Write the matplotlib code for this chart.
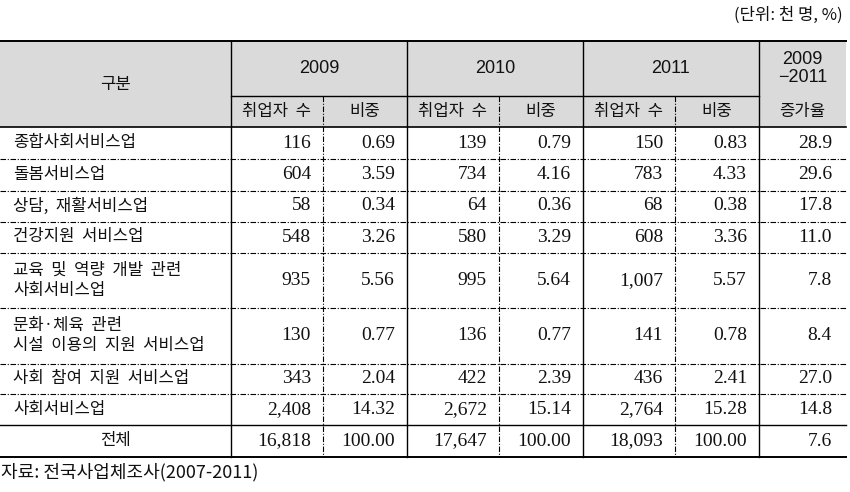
import matplotlib
matplotlib.use("Agg")
import matplotlib.pyplot as plt

plt.rcParams['font.family'] = ['Noto Sans CJK KR', 'DejaVu Sans']

# data
years = ['2009', '2010', '2011']
categories = ['종합사회서비스업', '돌봄서비스업', '상담,  재활서비스업', '건강지원  서비스업',
              '교육  및  역량  개발  관련\n사회서비스업',
              '문화·체육  관련\n시설  이용의  지원  서비스업',
              '사회  참여  지원  서비스업', '사회서비스업', '전체']
workers_2009 = ['116', '604', '58', '548', '935', '130', '343', '2,408', '16,818']
share_2009 = ['0.69', '3.59', '0.34', '3.26', '5.56', '0.77', '2.04', '14.32', '100.00']
workers_2010 = ['139', '734', '64', '580', '995', '136', '422', '2,672', '17,647']
share_2010 = ['0.79', '4.16', '0.36', '3.29', '5.64', '0.77', '2.39', '15.14', '100.00']
workers_2011 = ['150', '783', '68', '608', '1,007', '141', '436', '2,764', '18,093']
share_2011 = ['0.83', '4.33', '0.38', '3.36', '5.57', '0.78', '2.41', '15.28', '100.00']
growth = ['28.9', '29.6', '17.8', '11.0', '7.8', '8.4', '27.0', '14.8', '7.6']

# layout in pixels
col_x = [0, 231, 323, 407, 499, 583, 675, 759, 846]
head_y = [41, 96, 127]
row_y = [127, 159, 190.5, 221.5, 252.5, 308, 363.5, 394, 425, 457]

fig = plt.figure(figsize=(8.5, 4.92), dpi=100)
ax = fig.add_axes([0, 0, 1, 1])
ax.set_xlim(0, 850)
ax.set_ylim(492, 0)
ax.axis('off')

ink = '#111111'
hdr = dict(fontsize=12, color=ink, ha='center', va='center')
yr_font = dict(fontsize=13, color=ink, ha='center', va='center',
               family=['Liberation Sans', 'Noto Sans CJK KR'])
num = dict(fontsize=14, color=ink, ha='right', va='center', family='Liberation Serif')
dashdot = (0, (5, 1.5, 1, 1.5))

# header background
ax.fill_between([col_x[0], col_x[-1]], head_y[0], head_y[2], color='#dadada', lw=0)

# header text
ax.text((col_x[0] + col_x[1]) / 2, (head_y[0] + head_y[2]) / 2, '구분', **hdr)
for i, yr in enumerate(years):
    xa, xb = col_x[1 + 2 * i], col_x[3 + 2 * i]
    ax.text((xa + xb) / 2, (head_y[0] + head_y[1]) / 2, yr, **yr_font)
    ax.text((col_x[1 + 2 * i] + col_x[2 + 2 * i]) / 2, (head_y[1] + head_y[2]) / 2, '취업자  수', **hdr)
    ax.text((col_x[2 + 2 * i] + col_x[3 + 2 * i]) / 2, (head_y[1] + head_y[2]) / 2, '비중', **hdr)
ax.text((col_x[7] + col_x[8]) / 2, (head_y[0] + head_y[1]) / 2, '2009\n−2011', linespacing=1.1, **yr_font)
ax.text((col_x[7] + col_x[8]) / 2, (head_y[1] + head_y[2]) / 2, '증가율', **hdr)

# body
cols = [workers_2009, share_2009, workers_2010, share_2010, workers_2011, share_2011, growth]
for r, cat in enumerate(categories):
    yc = (row_y[r] + row_y[r + 1]) / 2
    if cat == '전체':
        ax.text((col_x[0] + col_x[1]) / 2, yc, cat, **hdr)
    else:
        ax.text(13, yc, cat, fontsize=12, color=ink, ha='left', va='center', linespacing=1.2)
    for c, vals in enumerate(cols):
        pad = 14 if c == 6 else 12
        ax.text(col_x[c + 2] - pad, yc, vals[r], **num)

# horizontal rules
ax.plot([col_x[0], col_x[-1]], [head_y[0]] * 2, color='black', lw=1.4)
ax.plot([col_x[1], col_x[7]], [head_y[1]] * 2, color='black', lw=1.0)
ax.plot([col_x[0], col_x[-1]], [head_y[2]] * 2, color='black', lw=1.2)
for y in row_y[1:-2]:
    ax.plot([col_x[0], col_x[-1]], [y, y], color='black', lw=0.8, linestyle=dashdot)
ax.plot([col_x[0], col_x[-1]], [row_y[-2]] * 2, color='black', lw=1.0)
ax.plot([col_x[0], col_x[-1]], [row_y[-1]] * 2, color='black', lw=1.4)

# vertical rules
for x in [col_x[1], col_x[3], col_x[5], col_x[7]]:
    ax.plot([x, x], [head_y[0], row_y[-1]], color='black', lw=1.0)
for x in [col_x[2], col_x[4], col_x[6]]:
    ax.plot([x, x], [head_y[1], row_y[-1]], color='black', lw=0.8, linestyle=dashdot)

# unit and source
ax.text(843, 15, '(단위: 천 명, %)', fontsize=12, ha='right', va='center', color=ink)
ax.text(1, 472, '자료: 전국사업체조사(2007-2011)', fontsize=13, ha='left', va='center', color=ink)

fig.savefig('out.png', dpi=100)
